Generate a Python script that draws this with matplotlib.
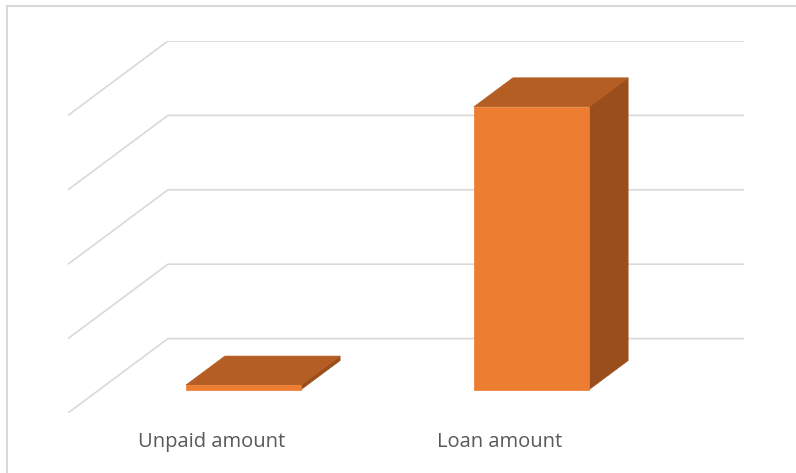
import matplotlib.pyplot as plt
from matplotlib.patches import Polygon
import numpy as np

plt.rcParams['font.family'] = ['Open Sans', 'DejaVu Sans']

# Data
categories = ['Unpaid amount', 'Loan amount']
values = [600, 38000]
grid_values = [0, 10000, 20000, 30000, 40000]

# Colours
c_front = '#ED7D31'
c_top = '#B45E23'
c_side = '#9A4E1C'
c_grid = '#D9D9D9'
c_text = '#595959'

# Oblique projection of the depth axis (d=0 back wall, d=1 front of floor)
depth_dx = -0.347     # in category units
depth_dv = -10000     # in value units
bar_width = 0.40
d_back, d_front = 0.295, 0.685


def proj(x, v, d):
    return x + d * depth_dx, v + d * depth_dv


fig = plt.figure(figsize=(7.96, 4.73), dpi=100)
W, H = 796, 473
ax = fig.add_axes([68 / W, 1 - 413 / H, (744 - 68) / W, (413 - 41) / H])
ax.set_xlim(depth_dx, len(categories))
ax.set_ylim(depth_dv, grid_values[-1])
ax.axis('off')

# Back wall and side wall gridlines
for g in grid_values:
    xs = [proj(0, g, 1)[0], 0, len(categories)]
    vs = [proj(0, g, 1)[1], g, g]
    ax.plot(xs, vs, color=c_grid, lw=1.2, solid_capstyle='butt', zorder=1)

# 3D columns
for i, v in enumerate(values):
    x0 = i + 0.5 - bar_width / 2
    x1 = i + 0.5 + bar_width / 2
    front = [proj(x0, 0, d_front), proj(x1, 0, d_front),
             proj(x1, v, d_front), proj(x0, v, d_front)]
    top = [proj(x0, v, d_front), proj(x1, v, d_front),
           proj(x1, v, d_back), proj(x0, v, d_back)]
    side = [proj(x1, 0, d_front), proj(x1, 0, d_back),
            proj(x1, v, d_back), proj(x1, v, d_front)]
    for pts, col in [(side, c_side), (top, c_top), (front, c_front)]:
        ax.add_patch(Polygon(pts, closed=True, facecolor=col,
                             edgecolor=col, lw=0.5, zorder=3))

# Category labels along the front edge of the floor
for i, name in enumerate(categories):
    x, _ = proj(i + 0.5, 0, 1)
    ax.text(x, depth_dv - 3850, name, ha='center', va='center',
            fontsize=14.5, color=c_text)

# Chart area border (left and top)
fig.add_artist(plt.Line2D([7.5 / W, 7.5 / W], [0, 1 - 6 / H],
                          color=c_grid, lw=1.5, transform=fig.transFigure))
fig.add_artist(plt.Line2D([7.5 / W, 1], [1 - 6 / H, 1 - 6 / H],
                          color=c_grid, lw=1.5, transform=fig.transFigure))

fig.savefig('out.png', dpi=100)
